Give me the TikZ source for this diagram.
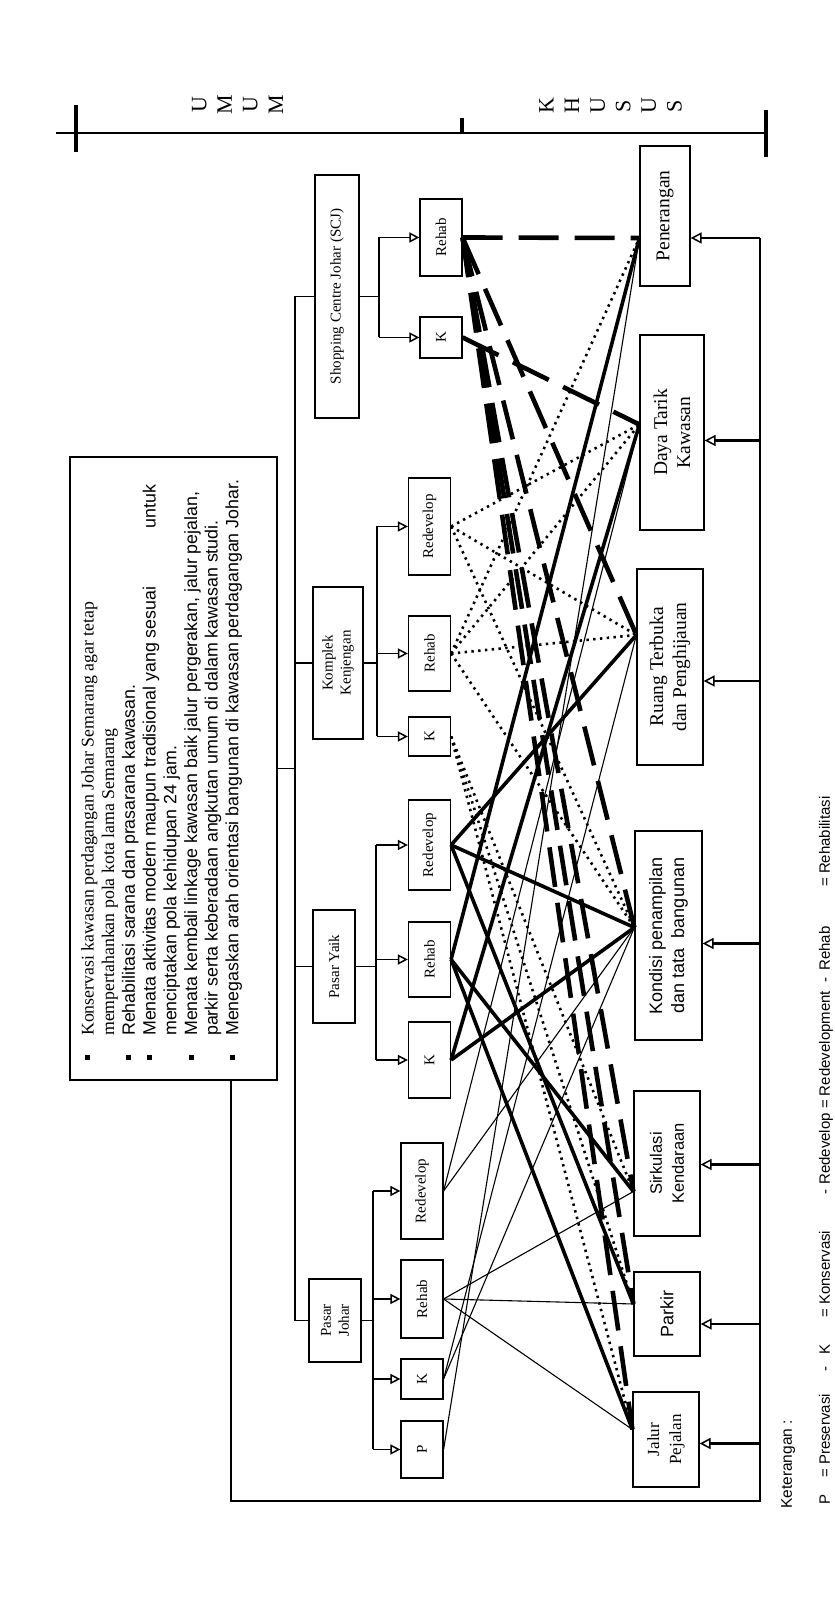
\documentclass[tikz,border=0pt]{standalone}
\usepackage{fontspec}
\setmainfont{Liberation Serif}
\setsansfont{Liberation Sans}
\usetikzlibrary{arrows.meta}

\newcommand{\fs}[2]{\fontsize{#1}{#2}\selectfont}
\newcommand{\bul}{\raisebox{3.5pt}{\rule{5pt}{5pt}}\hspace{19pt}}

\tikzset{
  box/.style={draw, line width=1.2pt, inner sep=1pt, align=center},
  topbox/.style={box, font=\fs{15}{18}},
  subbox/.style={box, font=\fs{15}{18}, minimum height=42pt},
  aimbox/.style={box, font=\fs{19.5}{23}},
  aimsans/.style={box, font=\sffamily\fs{18}{22}},
  goaltext/.style={font=\sffamily\fs{17.8}{20.7}, align=left, inner sep=0pt},
  scalelabel/.style={font=\fs{22}{25.6}, align=center, inner sep=0pt},
  legend/.style={font=\sffamily\fs{15}{18}, inner sep=0pt},
  tree/.style={line width=1.3pt},
  subarrow/.style={line width=1.8pt, -{Triangle[open, length=10pt, width=10pt, line width=1.5pt]}},
  feedarrow/.style={line width=2.4pt, -{Triangle[open, length=11pt, width=11pt, line width=1.5pt]}},
  pjline/.style={line width=1.1pt},
  pyline/.style={line width=3.6pt},
  kkline/.style={line width=2.6pt, dash pattern=on 2.4pt off 4.4pt},
  scjline/.style={line width=4.6pt, dash pattern=on 40pt off 16pt},
}

\begin{document}
\begin{tikzpicture}[x=1pt, y=1pt, rotate=90, transform shape]
    \useasboundingbox (0,0) rectangle (1599,835);

    % 1. SKALA UMUM - KHUSUS
    \draw[line width=2pt] (1466,779) -- (1466,69);
    \draw[line width=4pt] (1447,759) -- (1494,759);
    \draw[line width=4pt] (1466,373) -- (1481,373);
    \draw[line width=4pt] (1442,69) -- (1489,69);
    \node[scalelabel] (umum) at (1494,597.5) {U\\M\\U\\M};
    \node[scalelabel] (khusus) at (1493,224.5) {K\\H\\U\\S\\U\\S};

    % 2. KOTAK TUJUAN
    \node[box, line width=1.6pt, minimum width=623pt, minimum height=207pt] (goals) at (830.5,661.5) {};
    \node[goaltext, anchor=north west] (goaltx) at (563,754) {%
        \llap{\bul}{\rmfamily Konservasi kawasan perdagangan Johar Semarang agar tetap}\\
        {\rmfamily mempertahankan pola kota lama Semarang}\\
        \llap{\bul}Rehabilitasi sarana dan prasarana kawasan.\\
        \llap{\bul}\makebox[551pt][l]{Menata aktivitas modern maupun tradisional yang sesuai\hfill untuk}\\
        menciptakan pola kehidupan 24 jam.\\
        \llap{\bul}Menata kembali linkage kawasan baik jalur pergerakan, jalur pejalan,\\
        parkir serta keberadaan angkutan umum di dalam kawasan studi.\\
        \llap{\bul}Menegaskan arah orientasi bangunan di kawasan perdagangan Johar.};

    % 3. KAWASAN
    \node[topbox, minimum width=243pt, minimum height=44pt] (scj) at (1302.5,498) {Shopping Centre Johar (SCJ)};
    \node[topbox, minimum width=152pt, minimum height=50pt] (kk) at (936,497) {Komplek\\Kenjengan};
    \node[topbox, minimum width=113pt, minimum height=42pt] (py) at (632.5,501) {Pasar Yaik};
    \node[topbox, minimum width=83pt, minimum height=52pt] (pj) at (278.5,500) {Pasar\\Johar};

    % 4. PENANGANAN
    \node[subbox, minimum width=77pt] (sRehab) at (1361.5,394) {Rehab};
    \node[subbox, minimum width=41pt] (sK) at (1261.5,394) {K};
    \node[subbox, minimum width=97pt] (kRedev) at (1072.5,405.5) {Redevelop};
    \node[subbox, minimum width=75pt] (kRehab) at (945.5,405.5) {Rehab};
    \node[subbox, minimum width=39pt] (kK) at (862.5,405.5) {K};
    \node[subbox, minimum width=90pt] (yRedev) at (754,405.5) {Redevelop};
    \node[subbox, minimum width=75pt] (yRehab) at (639.5,405.5) {Rehab};
    \node[subbox, minimum width=76pt] (yK) at (539,405.5) {K};
    \node[subbox, minimum width=96pt] (jRedev) at (408,413) {Redevelop};
    \node[subbox, minimum width=78pt] (jRehab) at (300,413) {Rehab};
    \node[subbox, minimum width=40pt] (jK) at (220,413) {K};
    \node[subbox, minimum width=57pt] (jP) at (149.5,413) {P};

    % 5. ASPEK KHUSUS
    \node[aimbox, minimum width=140pt, minimum height=50pt] (pen) at (1383,170) {Penerangan};
    \node[aimbox, minimum width=195pt, minimum height=64pt] (daya) at (1166.5,163) {Daya Tarik\\Kawasan};
    \node[aimbox, minimum width=196pt, minimum height=66pt] (ruang) at (932,165) {Ruang Terbuka\\dan Penghijauan};
    \node[aimsans, minimum width=209pt, minimum height=67pt] (kond) at (663.5,166.5) {Kondisi penampilan\\dan tata\ \ bangunan};
    \node[aimsans, font=\sffamily\fs{16.5}{22}, minimum width=145pt, minimum height=66pt] (sirk) at (435.5,168) {Sirkulasi\\Kendaraan};
    \node[aimsans, minimum width=84pt, minimum height=66pt] (parkir) at (285,168) {Parkir};
    \node[aimbox, font=\fs{17}{22}, minimum width=95pt, minimum height=66pt] (jalur) at (159.5,169) {Jalur\\Pejalan};

    % 6. POHON
    \coordinate (trunk) at (0,540);
    \draw[tree] (pj.north) -- (pj.north |- trunk) -- (scj.north |- trunk) -- (scj.north);
    \draw[tree] (kk.north) -- (kk.north |- trunk);
    \draw[tree] (py.north) -- (py.north |- trunk);
    \draw[tree] (goals.south) -- (goals.south |- trunk);

    \coordinate (sBr) at (0,456);
    \coordinate (kBr) at (0,458);
    \coordinate (yBr) at (0,459);
    \coordinate (jBr) at (0,462);
    \draw[tree] (scj.south) -- (scj.south |- sBr);
    \draw[tree] (sK.north |- sBr) -- (sRehab.north |- sBr);
    \draw[tree] (kk.south) -- (kk.south |- kBr);
    \draw[tree] (kK.north |- kBr) -- (kRedev.north |- kBr);
    \draw[tree] (py.south) -- (py.south |- yBr);
    \draw[tree] (yK.north |- yBr) -- (yRedev.north |- yBr);
    \draw[tree] (pj.south) -- (pj.south |- jBr);
    \draw[tree] (jP.north |- jBr) -- (jRedev.north |- jBr);
    \foreach \b in {sRehab, sK} \draw[subarrow] (\b.north |- sBr) -- (\b.north);
    \foreach \b in {kRedev, kRehab, kK} \draw[subarrow] (\b.north |- kBr) -- (\b.north);
    \foreach \b in {yRedev, yRehab, yK} \draw[subarrow] (\b.north |- yBr) -- (\b.north);
    \foreach \b in {jRedev, jRehab, jK, jP} \draw[subarrow] (\b.north |- jBr) -- (\b.north);

    % 7. UMPAN BALIK
    \coordinate (loopY) at (0,604);
    \coordinate (loopL) at (98,75);
    \coordinate (penfb) at ([xshift=-22pt]pen.south);
    \coordinate (dayafb) at ([xshift=-8pt]daya.south);
    \coordinate (ruangfb) at ([xshift=-14pt]ruang.south);
    \coordinate (kondfb) at ([xshift=-8pt]kond.south);
    \coordinate (sirkfb) at ([xshift=-1pt]sirk.south);
    \coordinate (parkirfb) at ([xshift=-10pt]parkir.south);
    \coordinate (jalurfb) at ([xshift=-4pt]jalur.south);
    \draw[tree] (goals.west |- loopY) -| (loopL) -- (penfb |- loopL);
    \foreach \k in {pen, daya, ruang, kond, sirk, parkir, jalur}
        \draw[feedarrow] (\k fb |- loopL) -- (\k fb);

    % 8. HUBUNGAN
    \coordinate (penin) at ([xshift=-22pt]pen.north);
    \coordinate (dayain) at ([xshift=8pt]daya.north);
    \coordinate (ruangin) at ([xshift=32pt]ruang.north);
    \coordinate (kondin) at ([xshift=8pt]kond.north);
    \coordinate (sirkin) at ([xshift=-28pt]sirk.north);
    \coordinate (parkirin) at ([xshift=10pt]parkir.north);
    \coordinate (jalurin) at ([xshift=10pt]jalur.north);
    \foreach \a/\b in {jP/pen, jK/ruang, jK/kond, jRehab/sirk, jRehab/parkir, jRehab/jalur, jRedev/kond, jRedev/daya}
        \draw[pjline] (\a.south) -- (\b in);
    \foreach \a/\b in {kRedev/daya, kRedev/ruang, kRedev/kond, kRehab/pen, kRehab/daya, kRehab/ruang, kRehab/kond, kK/sirk, kK/parkir, kK/jalur}
        \draw[kkline] (\a.south) -- (\b in);
    \foreach \a/\b in {yRedev/ruang, yRedev/kond, yRedev/parkir, yRehab/pen, yRehab/sirk, yRehab/jalur, yK/daya, yK/kond}
        \draw[pyline] (\a.south) -- (\b in);
    \foreach \a/\b in {sRehab/pen, sRehab/ruang, sRehab/kond, sRehab/sirk, sRehab/parkir, sRehab/jalur, sK/daya}
        \draw[scjline] (\a.south) -- (\b in);

    % 9. KETERANGAN
    \node[legend, font=\sffamily\fs{15.5}{18}, anchor=base west] (keter) at (90,43) {Keterangan :};
    \foreach \x/\t [count=\i] in {94/P, 121/{= Preservasi}, 227/-, 244/K, 281/{= Konservasi}, 404/-, 414/{Redevelop = Redevelopment}, 616/-, 628/Rehab, 712/{= Rehabilitasi}}
        \node[legend, anchor=base west] (leg\i) at (\x,5) {\t};
\end{tikzpicture}
\end{document}
